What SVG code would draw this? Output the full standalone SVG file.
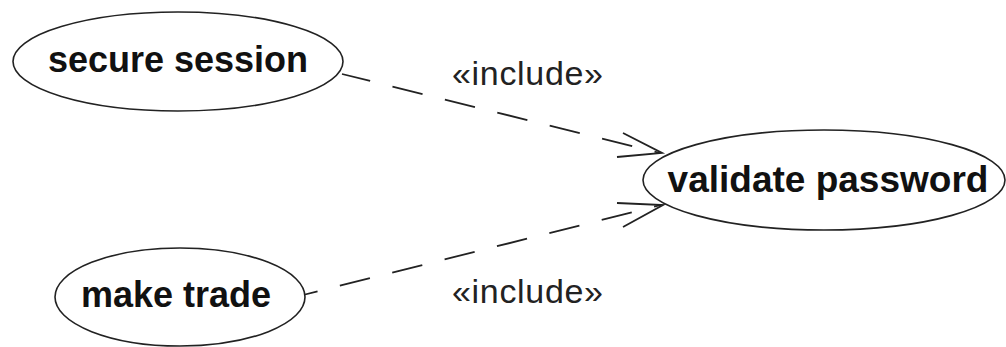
<svg xmlns="http://www.w3.org/2000/svg" width="1006" height="347" viewBox="0 0 1006 347">
<style>
.uc{fill:#fff;stroke:#222;stroke-width:1.6}
.name{font-family:"Liberation Sans",Arial,sans-serif;font-weight:bold;fill:#111;text-anchor:middle}
.lbl{font-family:"Liberation Sans",Arial,sans-serif;font-size:34px;fill:#222}
.dep{fill:none;stroke:#222;stroke-width:1.8;stroke-dasharray:31 23}
.head{fill:none;stroke:#222;stroke-width:1.8}
</style>
<rect width="1006" height="347" fill="#fff"/>
<g id="connectors">
  <line class="dep" x1="342" y1="74" x2="660" y2="153" stroke-dashoffset="2"/>
  <polyline class="head" points="623,133 662,153 617,157"/>
  <line class="dep" x1="303" y1="295" x2="661" y2="205" stroke-dashoffset="16"/>
  <polyline class="head" points="617,203 663,205 623,227"/>
  <text class="lbl" x="452" y="85" textLength="151">«include»</text>
  <text class="lbl" x="452" y="303" textLength="151">«include»</text>
</g>
<g id="secure-session">
  <ellipse class="uc" cx="178" cy="61.5" rx="165" ry="49.5"/>
  <text class="name" x="178" y="72" font-size="36">secure session</text>
</g>
<g id="validate-password">
  <ellipse class="uc" cx="824" cy="180" rx="181" ry="50"/>
  <text class="name" x="828" y="192" font-size="37">validate password</text>
</g>
<g id="make-trade">
  <ellipse class="uc" cx="180" cy="297" rx="125" ry="49"/>
  <text class="name" x="176" y="307" font-size="36">make trade</text>
</g>
</svg>
